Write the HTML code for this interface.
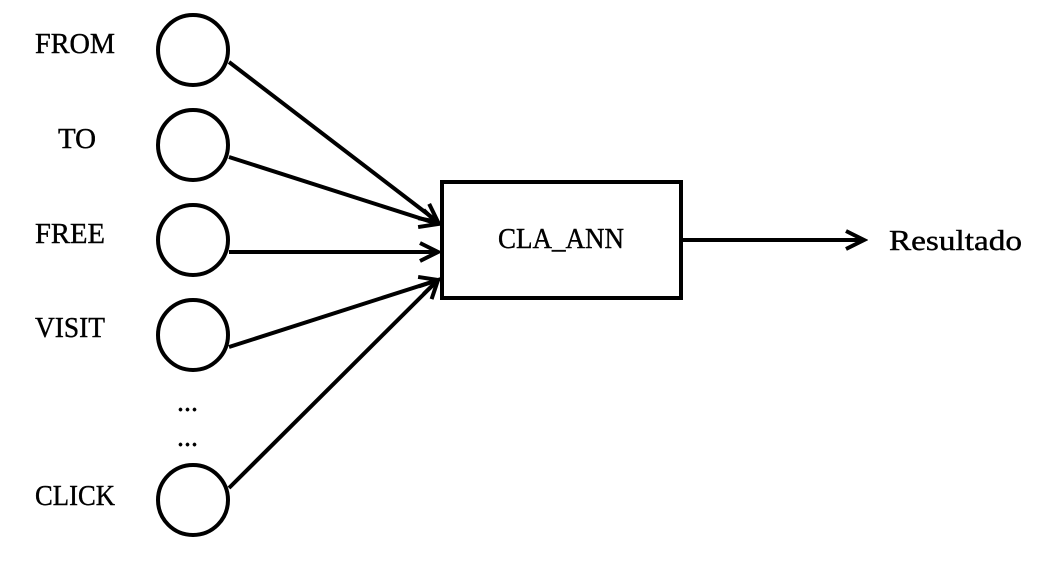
<!DOCTYPE html>
<html><head><style>
html,body{margin:0;padding:0;background:#fff;}
svg text{font-family:"Liberation Serif",serif;font-size:28px;fill:#000;stroke:#000;stroke-width:0.4;}
</style></head><body>
<svg width="1064" height="570" viewBox="0 0 1064 570" xmlns="http://www.w3.org/2000/svg">
<defs>
<marker id="b" markerWidth="26" markerHeight="26" refX="22" refY="13" orient="auto" markerUnits="userSpaceOnUse">
<path d="M4,4 L22,13 L4,22" fill="none" stroke="#000" stroke-width="4"/>
</marker>
</defs>
<g fill="none" stroke="#000" stroke-width="4">
<circle cx="193" cy="50" r="35"/>
<circle cx="193" cy="145" r="35"/>
<circle cx="193" cy="240" r="35"/>
<circle cx="193" cy="335" r="35"/>
<circle cx="193" cy="500" r="35"/>
<rect x="442" y="182" width="239" height="116"/>
</g>
<g stroke="#000" stroke-width="4" fill="none">
<path d="M229,62 L438,222" marker-end="url(#b)"/>
<path d="M229,157 L438,224" marker-end="url(#b)"/>
<path d="M229,252 L438,252" marker-end="url(#b)"/>
<path d="M229,347 L438,280" marker-end="url(#b)"/>
<path d="M229,488 L438,280" marker-end="url(#b)"/>
<path d="M681,240 L864,240" marker-end="url(#b)"/>
</g>
<text x="35" y="53" textLength="80" lengthAdjust="spacingAndGlyphs">FROM</text>
<text x="58" y="148" textLength="38" lengthAdjust="spacingAndGlyphs">TO</text>
<text x="35" y="243" textLength="70" lengthAdjust="spacingAndGlyphs">FREE</text>
<text x="35" y="337" textLength="70" lengthAdjust="spacingAndGlyphs">VISIT</text>
<text x="35" y="505" textLength="80" lengthAdjust="spacingAndGlyphs">CLICK</text>
<text x="177" y="411">...</text>
<text x="177" y="446">...</text>
<text x="498" y="248" textLength="126" lengthAdjust="spacingAndGlyphs">CLA_ANN</text>
<text x="889" y="250" textLength="133" lengthAdjust="spacingAndGlyphs">Resultado</text>
</svg>
</body></html>
